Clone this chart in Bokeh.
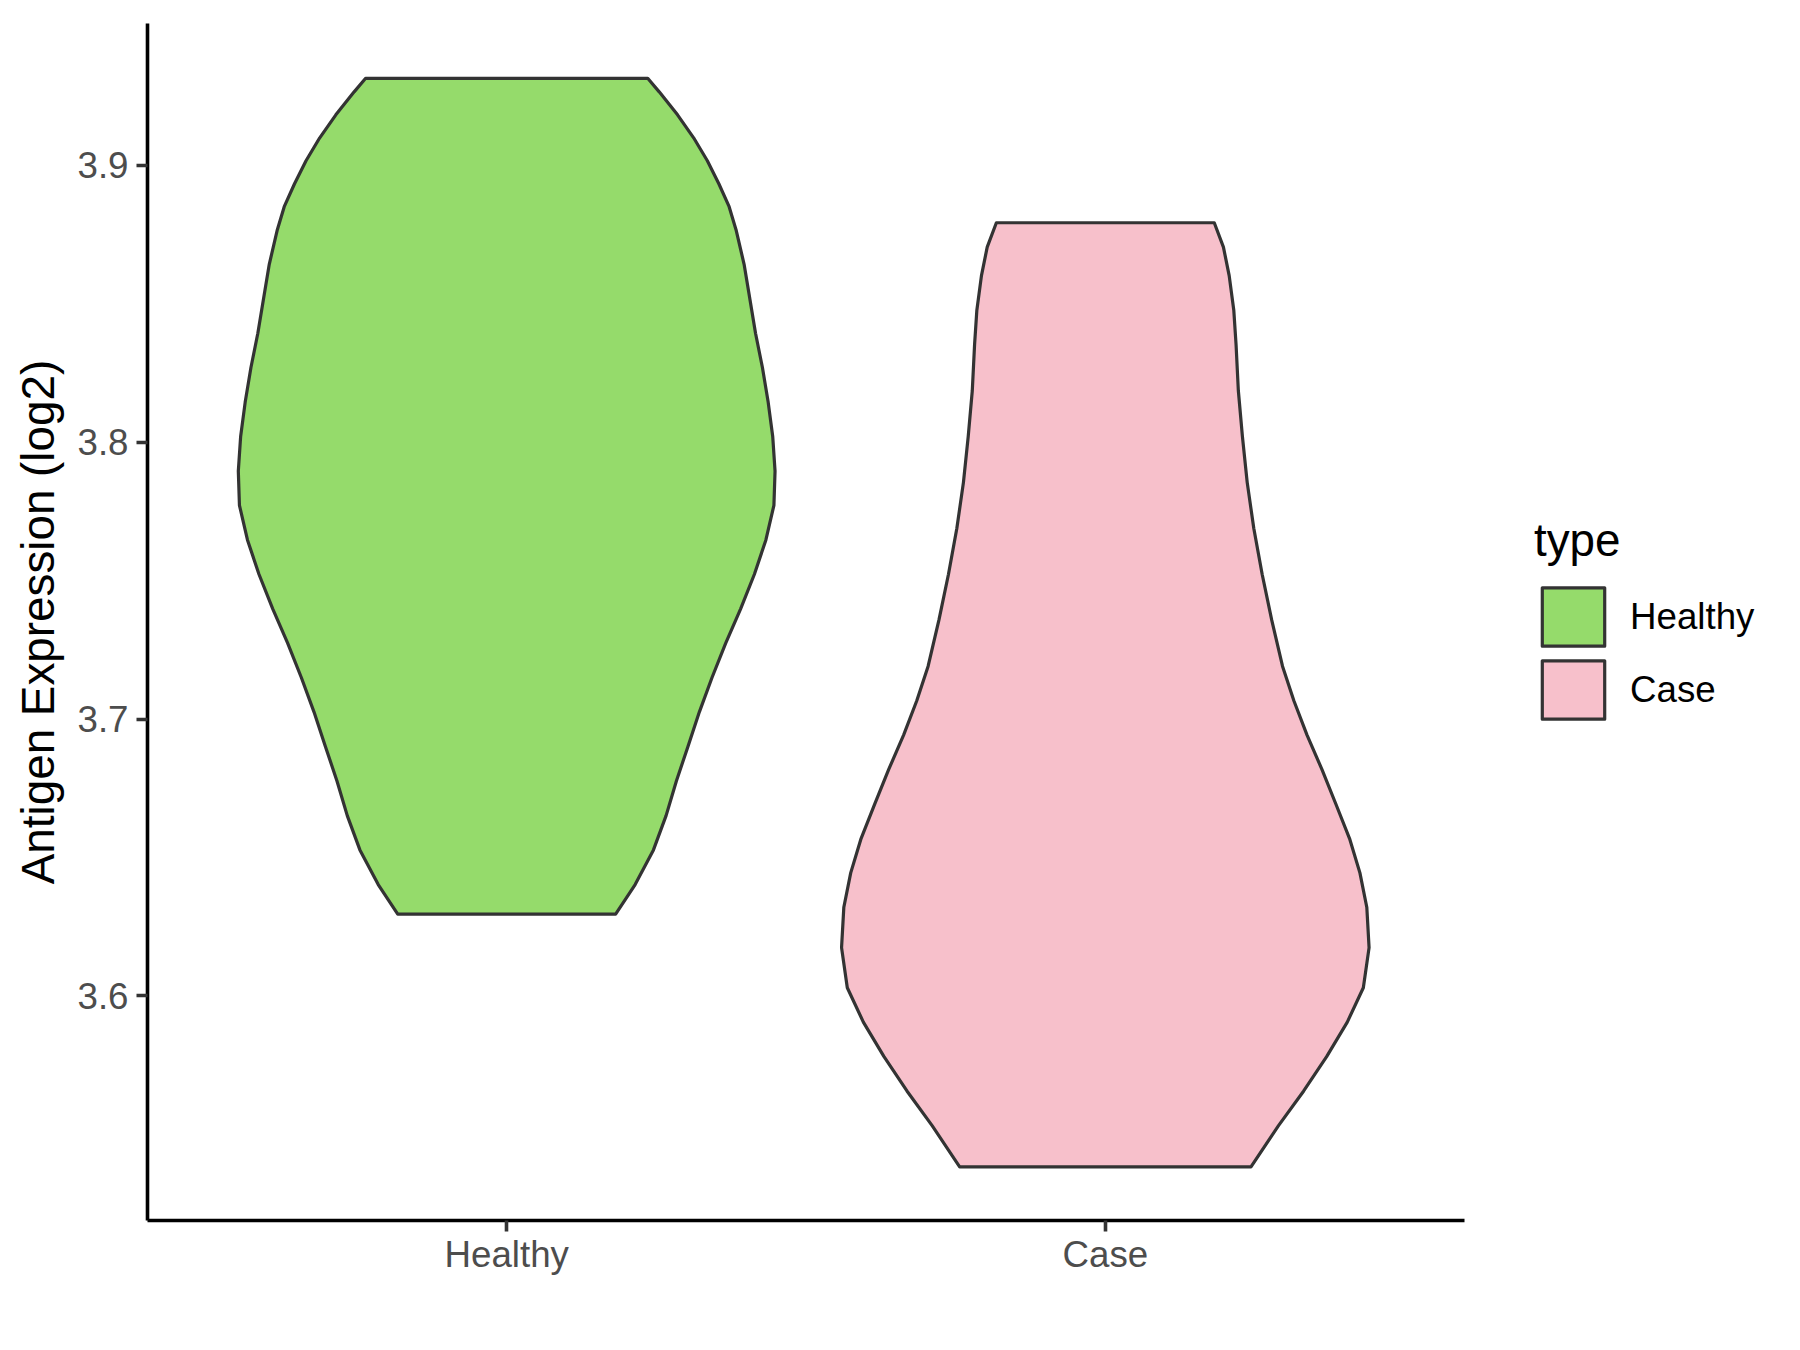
from bokeh.plotting import figure
from bokeh.models import Range1d, FixedTicker, Legend, LegendItem
from bokeh.embed import file_html
from bokeh.resources import INLINE

# ---- data ----
categories = ["Healthy", "Case"]
positions = [1, 2]

# violin outlines: y levels (top -> bottom) and half-widths (x units)
healthy_y = [3.9315, 3.9266, 3.9183, 3.9100, 3.9017, 3.8934, 3.8851, 3.8768,
             3.8643, 3.8519, 3.8394, 3.8270, 3.8145, 3.8021, 3.7896, 3.7772,
             3.7647, 3.7523, 3.7398, 3.7274, 3.7149, 3.7025, 3.6900, 3.6776,
             3.6651, 3.6527, 3.6402, 3.6295]
healthy_hw = [0.2356, 0.2548, 0.2854, 0.3123, 0.3352, 0.3544, 0.3716, 0.3831,
              0.3966, 0.4061, 0.4157, 0.4272, 0.4368, 0.4444, 0.4483, 0.4464,
              0.4330, 0.4138, 0.3908, 0.3659, 0.3429, 0.3218, 0.3027, 0.2835,
              0.2663, 0.2452, 0.2146, 0.1820]

case_y = [3.8793, 3.8705, 3.8602, 3.8477, 3.8353, 3.8187, 3.8021, 3.7855,
          3.7689, 3.7523, 3.7357, 3.7191, 3.7066, 3.6942, 3.6817, 3.6693,
          3.6568, 3.6444, 3.6320, 3.6174, 3.6029, 3.5905, 3.5780, 3.5656,
          3.5531, 3.5382]
case_hw = [0.1820, 0.1973, 0.2069, 0.2146, 0.2184, 0.2222, 0.2290, 0.2370,
           0.2480, 0.2620, 0.2780, 0.2960, 0.3150, 0.3370, 0.3620, 0.3851,
           0.4080, 0.4253, 0.4368, 0.4406, 0.4310, 0.4042, 0.3697, 0.3314,
           0.2893, 0.2433]

fill_colors = ["#95DB6B", "#F7C0CB"]
y_ticks = [3.6, 3.7, 3.8, 3.9]
y_label = "Antigen Expression (log2)"
legend_title = "type"

FONT = "Liberation Sans"

p = figure(frame_width=1317, frame_height=1197,
           min_border_left=147, min_border_top=23,
           min_border_right=320, min_border_bottom=114,
           x_range=Range1d(0.4, 2.6), y_range=Range1d(3.5188, 3.9513),
           output_backend="svg", toolbar_location=None)

p.outline_line_color = None
p.xgrid.visible = False
p.ygrid.visible = False
p.background_fill_color = "white"
p.border_fill_color = "white"

renderers = []
for pos, ys, hws, col in zip(positions, [healthy_y, case_y], [healthy_hw, case_hw], fill_colors):
    left_x = [pos - w for w in hws]
    right_x = [pos + w for w in reversed(hws)]
    xs = left_x + right_x
    yy = list(ys) + list(reversed(ys))
    r = p.patch(xs, yy, fill_color=col, line_color="#333333", line_width=3.2,
                line_join="round")
    renderers.append(r)

# axes
for ax in (p.xaxis[0], p.yaxis[0]):
    ax.axis_line_color = "black"
    ax.axis_line_width = 3.6
    ax.major_tick_line_color = "#333333"
    ax.major_tick_line_width = 3.6
    ax.major_tick_out = 11
    ax.major_tick_in = 0
    ax.minor_tick_line_color = None
    ax.major_label_text_font = FONT
    ax.major_label_text_font_size = "36.7px"
    ax.major_label_text_color = "#4D4D4D"

p.xaxis.major_label_standoff = 2
p.yaxis.major_label_standoff = 8
p.xaxis.ticker = FixedTicker(ticks=positions)
p.xaxis.major_label_overrides = {pos: c for pos, c in zip(positions, categories)}
p.yaxis.ticker = FixedTicker(ticks=y_ticks)
p.yaxis.axis_label = y_label
p.yaxis.axis_label_text_font = FONT
p.yaxis.axis_label_text_font_size = "45.8px"
p.yaxis.axis_label_text_font_style = "normal"
p.yaxis.axis_label_text_color = "black"
p.yaxis.axis_label_standoff = 10

items = [LegendItem(label=c, renderers=[r]) for c, r in zip(categories, renderers)]
legend = Legend(items=items, location=(70, 494), title=legend_title,
                title_text_font=FONT, title_text_font_size="45.8px",
                title_text_font_style="normal", title_text_color="black",
                title_standoff=13,
                label_text_font=FONT, label_text_font_size="36.7px",
                label_text_color="black", label_standoff=18,
                glyph_width=78, glyph_height=73, spacing=0,
                padding=0, margin=0, border_line_alpha=0,
                background_fill_alpha=0)
p.add_layout(legend, "right")

open("out.html", "w").write(file_html(p, INLINE))
